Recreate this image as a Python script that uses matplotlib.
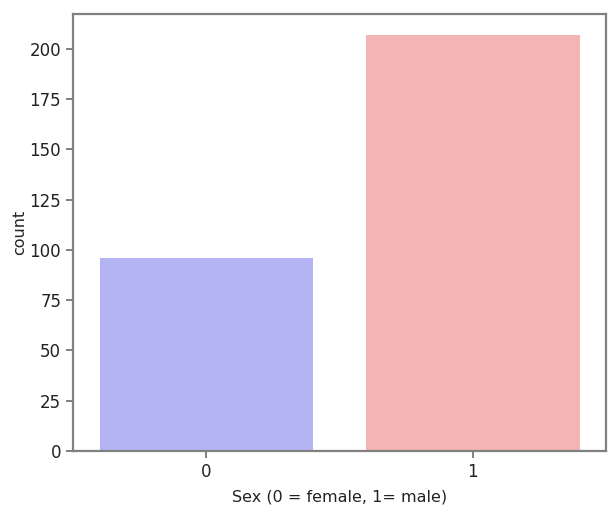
import matplotlib
matplotlib.use("Agg")
import matplotlib.pyplot as plt

# sex counts (heart dataset)
categorias = ["0", "1"]
conteos = [96, 207]
colores = ["#b4b4f4", "#f4b4b4"]

plt.rcParams['font.family'] = ['DejaVu Sans']

fig = plt.figure(figsize=(6.08, 5.14), dpi=100)
ax = fig.add_axes([0.12, 0.1226, 0.877, 0.8502])

ax.bar(range(len(categorias)), conteos, width=0.8, color=colores)
ax.set_xticks(range(len(categorias)))
ax.set_xticklabels(categorias)
ax.set_xlim(-0.5, 1.5)
ax.set_ylim(0, max(conteos) * 1.05)
ax.set_yticks(range(0, 201, 25))

for s in ax.spines.values():
    s.set_color('#808080')
    s.set_linewidth(1.6)
ax.tick_params(colors='#808080', labelcolor='#222222', labelsize=12, width=1.4, length=5)

ax.set_xlabel("Sex (0 = female, 1= male)", fontsize=11.5, color='#222222', labelpad=6)
ax.set_ylabel("count", fontsize=11.5, color='#222222', labelpad=2)

plt.savefig("out.png", dpi=100)
